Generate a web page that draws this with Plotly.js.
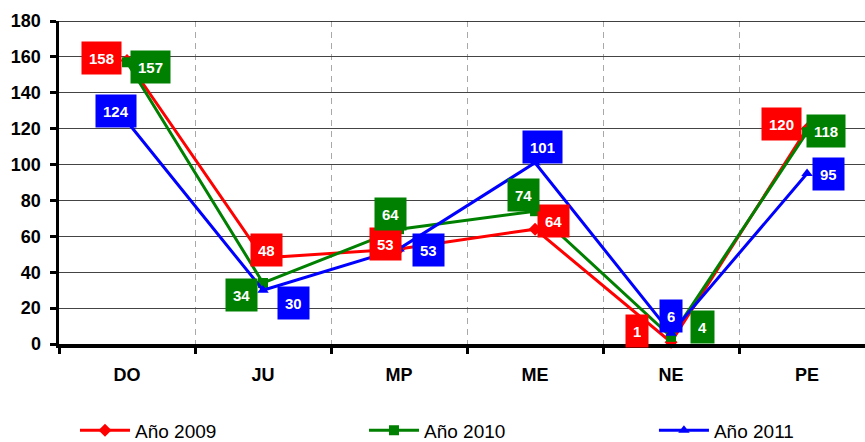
<!DOCTYPE html>
<html>
<head>
<meta charset="utf-8">
<script src="https://cdn.plot.ly/plotly-3.0.1.min.js"></script>
<style>html,body{margin:0;padding:0;background:#fff;overflow:hidden}#chart{width:865px;height:442px}</style>
</head>
<body>
<div id="chart"></div>
<script>
// ---- data ----
const categories = ["DO", "JU", "MP", "ME", "NE", "PE"];
const seriesNames = ["Año 2009", "Año 2010", "Año 2011"];
const values2009 = [158, 48, 53, 64, 1, 120];
const values2010 = [157, 34, 64, 74, 4, 118];
const values2011 = [124, 30, 53, 101, 6, 95];
const yTicks = [0, 20, 40, 60, 80, 100, 120, 140, 160, 180];

// ---- label offsets (pixels, screen) ----
const labelDx = [
  [-26, 3, -14, 18, -34, -26],
  [23, -22, -9, -12, 31, 19],
  [-11, 30, 29, 7, 0, 21]
];
const labelDy = [
  [2, 8, 5, 8, 11, 5],
  [-5, -12, 15, 16, 10, 1],
  [10, -13, -1, 16, 17, 0]
];

const colors = ["#ff0000", "#008000", "#0000ff"];
const symbols = ["diamond", "square", "triangle-up"];
const legendIds = ["legend", "legend2", "legend3"];
const legendX = [0.0867, 0.4208, 0.756];
const allValues = [values2009, values2010, values2011];

const traces = allValues.map((vals, i) => ({
  type: "scatter",
  mode: "lines+markers",
  name: seriesNames[i],
  legend: legendIds[i],
  x: categories,
  y: vals,
  line: {color: colors[i], width: 3},
  marker: {color: colors[i], symbol: symbols[i], size: 10},
  cliponaxis: false
}));

const annotations = [];
allValues.forEach((vals, i) => {
  vals.forEach((v, j) => {
    annotations.push({
      x: categories[j], y: v, xref: "x", yref: "y",
      text: String(v), showarrow: false,
      xshift: labelDx[i][j], yshift: labelDy[i][j],
      bgcolor: colors[i], borderpad: 7, height: 18,
      font: {family: "Liberation Sans, Arial, sans-serif", size: 15, color: "#ffffff", weight: "bold"}
    });
  });
});

const layout = {
  width: 865, height: 442,
  margin: {l: 59, r: 0, t: 21, b: 98},
  paper_bgcolor: "#ffffff",
  plot_bgcolor: "#ffffff",
  font: {family: "Liberation Sans, Arial, sans-serif", color: "#000"},
  showlegend: true,
  xaxis: {
    type: "category",
    range: [-0.5, 5.426],
    tickson: "boundaries",
    ticks: "outside", ticklen: 6, tickwidth: 3, tickcolor: "#000",
    showline: true, linewidth: 3.5, linecolor: "#000",
    showgrid: true, gridcolor: "#a8a8a8", gridwidth: 1, griddash: "6px,5px",
    tickfont: {size: 18, weight: "bold", color: "#000"},
    ticklabelstandoff: 12,
    fixedrange: true
  },
  yaxis: {
    range: [0, 180],
    tickvals: yTicks,
    ticks: "outside", ticklen: 6, tickwidth: 3, tickcolor: "#000",
    showline: true, linewidth: 3.5, linecolor: "#000",
    showgrid: true, gridcolor: "#444", gridwidth: 1,
    zeroline: false,
    tickfont: {size: 18, weight: "bold", color: "#000"},
    ticklabelstandoff: 5,
    fixedrange: true
  },
  shapes: [{
    type: "line", xref: "paper", yref: "y", x0: 0, x1: 1, y0: 180, y1: 180,
    line: {color: "#000", width: 1.5}
  }],
  annotations: annotations
};

legendIds.forEach((id, i) => {
  layout[id] = {
    orientation: "h",
    xref: "container", yref: "container",
    x: legendX[i], y: 0.026, xanchor: "left", yanchor: "middle",
    itemwidth: 50,
    bgcolor: "rgba(0,0,0,0)",
    font: {size: 19, color: "#000"}
  };
});

Plotly.newPlot("chart", traces, layout, {displayModeBar: false, staticPlot: true});
</script>
</body>
</html>
